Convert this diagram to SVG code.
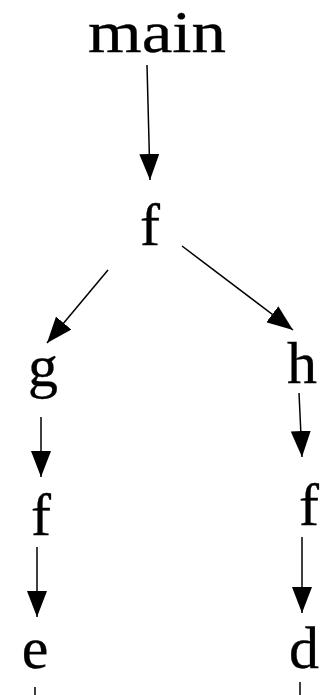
<svg xmlns="http://www.w3.org/2000/svg" width="322" height="695" viewBox="0 0 322 695">
<style>
.lbl{font-family:"Liberation Serif","Times New Roman",serif;font-size:60px;fill:#000;stroke:#000;stroke-width:0.3;text-anchor:middle}
.edge{stroke:#000;stroke-width:1.5;fill:none}
</style>
<defs>
<marker id="ah" markerUnits="userSpaceOnUse" markerWidth="26" markerHeight="20" refX="26" refY="10" orient="auto">
<path d="M0,0 L26,10 L0,20 z" fill="#000"/>
</marker>
</defs>
<rect width="322" height="695" fill="#fff"/>
<g id="connectors">
<line class="edge" x1="147" y1="65" x2="150" y2="180" marker-end="url(#ah)"/>
<line class="edge" x1="108" y1="270" x2="47" y2="343" marker-end="url(#ah)"/>
<line class="edge" x1="182" y1="246" x2="293" y2="330" marker-end="url(#ah)"/>
<line class="edge" x1="41" y1="417" x2="41" y2="477" marker-end="url(#ah)"/>
<line class="edge" x1="37" y1="547" x2="37" y2="617" marker-end="url(#ah)"/>
<line class="edge" x1="299" y1="393" x2="302" y2="457" marker-end="url(#ah)"/>
<line class="edge" x1="302" y1="537" x2="302" y2="613" marker-end="url(#ah)"/>
<line class="edge" x1="35" y1="687" x2="35" y2="695"/>
<line class="edge" x1="300" y1="682" x2="300" y2="695"/>
</g>
<g id="n_main"><text class="lbl" x="157" y="52" textLength="138" lengthAdjust="spacingAndGlyphs">main</text></g>
<g id="n_f1"><text class="lbl" x="150" y="245">f</text></g>
<g id="n_g"><text class="lbl" x="43" y="386">g</text></g>
<g id="n_h"><text class="lbl" x="302" y="383">h</text></g>
<g id="n_f2"><text class="lbl" x="41" y="535">f</text></g>
<g id="n_e"><text class="lbl" x="35" y="668">e</text></g>
<g id="n_f3"><text class="lbl" x="309" y="525">f</text></g>
<g id="n_d"><text class="lbl" x="304" y="668">d</text></g>
</svg>
